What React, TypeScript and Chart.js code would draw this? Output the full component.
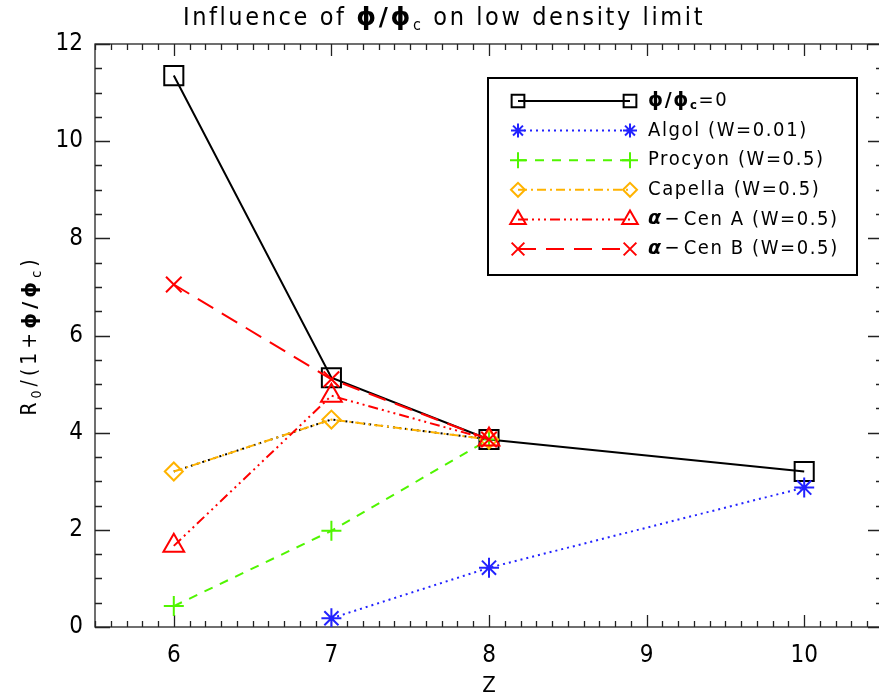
import { useEffect, useRef } from 'react';
import { Chart, registerables } from 'chart.js';
import { drawPoint } from 'chart.js/helpers';

Chart.register(...registerables);

// ---------------- data ----------------
const zPhi = [6, 7, 8, 10];
const rPhi = [11.35, 5.13, 3.86, 3.2];
const zAlgol = [7, 8, 10];
const rAlgol = [0.18, 1.22, 2.87];
const zProcyon = [6, 7, 8];
const rProcyon = [0.43, 1.98, 3.86];
const zCapella = [6, 7, 8];
const rCapella = [3.2, 4.27, 3.86];
const zCenA = [6, 7, 8];
const rCenA = [1.67, 4.76, 3.86];
const zCenB = [6, 7, 8];
const rCenB = [7.05, 5.1, 3.86];
const xTickValues = [6, 7, 8, 9, 10];
const yTickValues = [0, 2, 4, 6, 8, 10, 12];

const FONT = '"DejaVu Sans Condensed", "Liberation Sans", sans-serif';
const GREEK = '"DejaVu Sans", "Liberation Sans", sans-serif';

const pts = (xs: number[], ys: number[]) => xs.map((x, i) => ({ x, y: ys[i] }));

type Part = [string, string, number, number?];
function rich(ctx: CanvasRenderingContext2D, parts: Part[], x: number, y: number, align: 'left' | 'center', spacing = 0) {
  const c: any = ctx;
  let total = 0;
  for (const [t, f, , sp] of parts) {
    ctx.font = f; c.letterSpacing = `${sp ?? spacing}px`;
    total += ctx.measureText(t).width;
  }
  let cx = align === 'center' ? x - total / 2 : x;
  ctx.textBaseline = 'middle';
  ctx.textAlign = 'left';
  for (const [t, f, dy, sp] of parts) {
    ctx.font = f; c.letterSpacing = `${sp ?? spacing}px`;
    ctx.fillText(t, cx, y + dy);
    cx += ctx.measureText(t).width;
  }
  c.letterSpacing = '0px';
}

const legendLabels: Record<string, Part[]> = {
  phi: [['ϕ/ϕ', `bold 19px ${GREEK}`, 0], ['c', `bold 13px ${FONT}`, 5], ['=0', `20px ${FONT}`, 0]],
  algol: [['Algol (W=0.01)', `20px ${FONT}`, 0]],
  procyon: [['Procyon (W=0.5)', `20px ${FONT}`, 0]],
  capella: [['Capella (W=0.5)', `20px ${FONT}`, 0]],
  cena: [['α', `bold italic 19px ${GREEK}`, 0, 3.5], ['−', `20px ${FONT}`, 0, 4], ['Cen A (W=0.5)', `20px ${FONT}`, 0]],
  cenb: [['α', `bold italic 19px ${GREEK}`, 0, 3.5], ['−', `20px ${FONT}`, 0, 4], ['Cen B (W=0.5)', `20px ${FONT}`, 0]],
};

const decor = {
  id: 'decor',
  beforeDatasetsDraw(chart: any) {
    const ctx: CanvasRenderingContext2D = chart.ctx;
    const xs = chart.scales.x, ys = chart.scales.y;
    const { left, right, top, bottom } = chart.chartArea;
    ctx.save();
    ctx.strokeStyle = '#222';
    ctx.lineWidth = 1.3;
    ctx.strokeRect(left, top, right - left, bottom - top);
    ctx.beginPath();
    for (let i = 55; i <= 105; i++) {
      const v = i / 10;
      const px = Math.round(xs.getPixelForValue(v)) + 0.5;
      const len = i % 10 === 0 ? 12 : 6;
      ctx.moveTo(px, bottom); ctx.lineTo(px, bottom - len);
      ctx.moveTo(px, top); ctx.lineTo(px, top + len);
    }
    for (let i = 0; i <= 24; i++) {
      const v = i / 2;
      const py = Math.round(ys.getPixelForValue(v)) + 0.5;
      const len = i % 4 === 0 ? 15 : 7;
      ctx.moveTo(left, py); ctx.lineTo(left + len, py);
      ctx.moveTo(right, py); ctx.lineTo(right - len, py);
    }
    ctx.stroke();
    ctx.restore();
  },
  afterDraw(chart: any) {
    const ctx: CanvasRenderingContext2D = chart.ctx;
    const { left, right, top, bottom } = chart.chartArea;
    ctx.save();
    ctx.fillStyle = '#000';
    // title
    rich(ctx, [
      ['Influence of ', `25px ${FONT}`, 0],
      ['ϕ/ϕ', `bold 25px ${GREEK}`, 0],
      ['c', `16px ${FONT}`, 8],
      [' on low density limit', `25px ${FONT}`, 0],
    ], 444, 18, 'center', 2.6);
    // x title
    rich(ctx, [['Z', `22px ${FONT}`, 0]], (left + right) / 2, 686, 'center');
    // y title
    ctx.save();
    ctx.translate(31, (top + bottom) / 2);
    ctx.rotate(-Math.PI / 2);
    rich(ctx, [
      ['R', `21px ${FONT}`, 0],
      ['0', `14px ${FONT}`, 6],
      ['/(1+', `21px ${FONT}`, 0],
      ['ϕ/ϕ', `bold 20px ${GREEK}`, 0],
      ['c', `14px ${FONT}`, 6],
      [')', `21px ${FONT}`, 0],
    ], 0, 0, 'center', 4);
    ctx.restore();

    // legend
    const bx = 488, by = 78, bw = 369, bh = 197;
    ctx.fillStyle = '#fff';
    ctx.fillRect(bx, by, bw, bh);
    ctx.strokeStyle = '#000';
    ctx.lineWidth = 2;
    ctx.strokeRect(bx, by, bw, bh);
    const items = chart.data.datasets.filter((d: any) => d.key);
    items.forEach((d: any, i: number) => {
      const y = by + 23 + i * 29.6;
      const x0 = 518, x1 = 630;
      ctx.save();
      ctx.strokeStyle = d.borderColor;
      ctx.lineWidth = d.borderWidth;
      ctx.setLineDash(d.borderDash || []);
      ctx.beginPath(); ctx.moveTo(x0, y); ctx.lineTo(x1, y); ctx.stroke();
      ctx.setLineDash([]);
      ctx.fillStyle = 'rgba(0,0,0,0)';
      ctx.lineWidth = d.pointBorderWidth;
      const r = d.legendRadius;
      drawPoint(ctx, { pointStyle: d.pointStyle, radius: r, rotation: 0, borderWidth: d.pointBorderWidth } as any, x0, y);
      drawPoint(ctx, { pointStyle: d.pointStyle, radius: r, rotation: 0, borderWidth: d.pointBorderWidth } as any, x1, y);
      ctx.restore();
      ctx.fillStyle = '#000';
      rich(ctx, legendLabels[d.key], 648, y, 'left', 1.6);
    });
    ctx.restore();
  },
};

const BLUE = '#2222ff';
const GREEN = '#50f500';
const ORANGE = '#ffb300';
const RED = '#ff0000';

export default function App() {
  const ref = useRef<HTMLCanvasElement | null>(null);
  useEffect(() => {
    if (!ref.current) return;
    const mk = (key: string, label: string, data: any, color: string, dash: number[], style: string, radius: number, legendRadius: number, order: number) => ({
      key, label, data, borderColor: color, borderWidth: 2, borderDash: dash,
      pointStyle: style, pointRadius: radius, pointHoverRadius: radius, pointBorderColor: color,
      pointBackgroundColor: 'rgba(0,0,0,0)', pointBorderWidth: 2, legendRadius, order,
      showLine: true, fill: false, tension: 0,
    });
    const chart = new Chart(ref.current, {
      type: 'scatter',
      data: {
        datasets: [
          mk('phi', 'ϕ/ϕc=0', pts(zPhi, rPhi), '#000', [], 'rect', 13.5, 9, 10),
          mk('algol', 'Algol (W=0.01)', pts(zAlgol, rAlgol), BLUE, [2, 4], 'star', 10, 7, 9),
          mk('procyon', 'Procyon (W=0.5)', pts(zProcyon, rProcyon), GREEN, [9, 8], 'cross', 10, 8, 8),
          { ...mk('', '', pts(zCapella, rCapella), '#000', [2, 4], 'circle', 0, 0, 7.5), pointRadius: 0 },
          mk('capella', 'Capella (W=0.5)', pts(zCapella, rCapella), ORANGE, [9, 4, 2, 4], 'rectRot', 9, 7, 7),
          mk('cena', 'α-Cen A (W=0.5)', pts(zCenA, rCenA), RED, [10, 4, 2, 4, 2, 4, 2, 4], 'triangle', 12, 9, 6),
          mk('cenb', 'α-Cen B (W=0.5)', pts(zCenB, rCenB), RED, [18, 10], 'crossRot', 11, 9, 5),
        ] as any,
      },
      options: {
        animation: false,
        responsive: false,
        events: [],
        layout: { autoPadding: false, padding: { top: 44, left: 0, right: 1, bottom: 0 } },
        plugins: { legend: { display: false }, title: { display: false }, tooltip: { enabled: false } },
        scales: {
          x: {
            type: 'linear', min: 5.5, max: 10.5,
            grid: { display: false, drawTicks: false },
            border: { display: false },
            afterBuildTicks: (s: any) => { s.ticks = xTickValues.map((v) => ({ value: v })); },
            afterFit: (s: any) => { s.height = 71; s.paddingLeft = 0; s.paddingRight = 0; },
            ticks: { color: '#000', padding: 14, font: { family: FONT, size: 24 } },
          },
          y: {
            type: 'linear', min: 0, max: 12,
            grid: { display: false, drawTicks: false },
            border: { display: false },
            afterBuildTicks: (s: any) => { s.ticks = yTickValues.map((v) => ({ value: v })); },
            afterFit: (s: any) => { s.width = 95; s.paddingTop = 0; s.paddingBottom = 0; },
            ticks: { color: '#000', padding: 12, font: { family: FONT, size: 24 } },
          },
        },
      },
      plugins: [decor],
    });
    return () => chart.destroy();
  }, []);
  return (
    <div style={{ position: 'fixed', left: 0, top: 0, width: 879, height: 698, overflow: 'hidden', background: '#fff' }}>
      <canvas ref={ref} width={884} height={698} style={{ width: 884, height: 698, display: 'block' }} />
    </div>
  );
}
